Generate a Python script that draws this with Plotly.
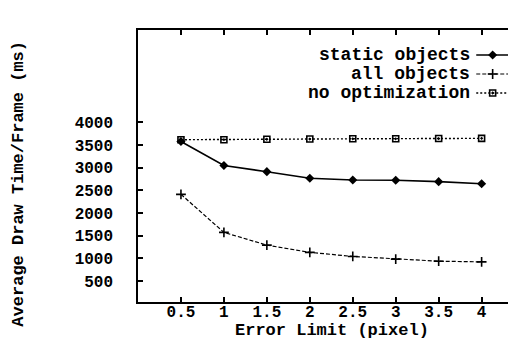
import plotly.graph_objects as go

error_limit = [0.5, 1, 1.5, 2, 2.5, 3, 3.5, 4]
static_objects = [3580, 3050, 2915, 2770, 2730, 2725, 2695, 2650]
all_objects = [2415, 1575, 1295, 1135, 1045, 985, 940, 925]
no_optimization = [3620, 3620, 3630, 3635, 3640, 3640, 3645, 3650]

x_ticks = [0.5, 1, 1.5, 2, 2.5, 3, 3.5, 4]
x_tick_text = ["0.5", "1", "1.5", "2", "2.5", "3", "3.5", "4"]
y_ticks = [500, 1000, 1500, 2000, 2500, 3000, 3500, 4000]
series_names = ["static objects", "all objects", "no optimization"]

FONT = "Liberation Mono"
W, H = 516, 341
L, R, T, B = 130, 0, 22, 47

styles = [
    dict(line=dict(color="black", width=1.6, dash="solid"),
         marker=dict(symbol="diamond", size=7, color="black")),
    dict(line=dict(color="black", width=1.2, dash="4px,2px"),
         marker=dict(symbol="cross-thin", size=7, color="black",
                     line=dict(width=1.6, color="black"))),
    dict(line=dict(color="black", width=1.4, dash="2px,2px"),
         marker=dict(symbol="square-open-dot", size=6, color="black",
                     line=dict(width=1.6, color="black"))),
]

fig = go.Figure()
for name, ys, st in zip(series_names, [static_objects, all_objects, no_optimization], styles):
    fig.add_trace(go.Scatter(x=error_limit, y=ys, mode="lines+markers", name=name,
                             line=st["line"], marker=st["marker"], showlegend=False))

pw = W - L - R
ph = H - T - B
def px2x(px):
    return (px - L) / pw
def py2y(py):
    return 1 - (py - T) / ph

rows_y = [47, 66, 85]
text_right = 466
line_x0, line_x1 = 470, 503
annotations = []
for name, st, ry in zip(series_names, styles, rows_y):
    yv = py2y(ry)
    fig.add_trace(go.Scatter(x=[px2x(line_x0), px2x(line_x1)], y=[yv, yv], mode="lines",
                             line=st["line"], xaxis="x2", yaxis="y2", showlegend=False,
                             hoverinfo="skip"))
    fig.add_trace(go.Scatter(x=[px2x((line_x0 + line_x1) / 2)], y=[yv], mode="markers",
                             marker=st["marker"], xaxis="x2", yaxis="y2", showlegend=False,
                             hoverinfo="skip"))
    annotations.append(dict(text=name, x=px2x(text_right), y=yv, xref="paper", yref="paper",
                            xanchor="right", yanchor="middle", showarrow=False,
                            font=dict(family=FONT, size=18, color="black", weight="bold")))

annotations.append(dict(text="Average Draw Time/Frame (ms)", x=px2x(9), y=py2y(176),
                        xref="paper", yref="paper", xanchor="center", yanchor="middle",
                        showarrow=False, textangle=-90,
                        font=dict(family=FONT, size=17, color="black", weight="bold")))
annotations.append(dict(text="Error Limit (pixel)", x=px2x(325), y=py2y(322),
                        xref="paper", yref="paper", xanchor="center", yanchor="middle",
                        showarrow=False,
                        font=dict(family=FONT, size=17, color="black", weight="bold")))

axis_common = dict(showline=True, linecolor="black", linewidth=1.5, mirror="ticks",
                   ticks="inside", ticklen=5, tickwidth=1.5, tickcolor="black",
                   showgrid=False, zeroline=False,
                   tickfont=dict(family=FONT, size=16, color="black", weight="bold"))

fig.update_layout(
    width=W, height=H,
    margin=dict(l=L, r=R, t=T, b=B, pad=0),
    plot_bgcolor="white", paper_bgcolor="white",
    xaxis=dict(range=[0, 4.47], tickvals=x_ticks, ticktext=x_tick_text,
               ticklabelstandoff=-6, **axis_common),
    yaxis=dict(range=[40, 6040], tickvals=y_ticks, ticklabelstandoff=20, **axis_common),
    xaxis2=dict(range=[0, 1], overlaying="x", visible=False, fixedrange=True),
    yaxis2=dict(range=[0, 1], overlaying="y", visible=False, fixedrange=True),
    annotations=annotations,
    showlegend=False,
)

fig.write_html("out.html")
